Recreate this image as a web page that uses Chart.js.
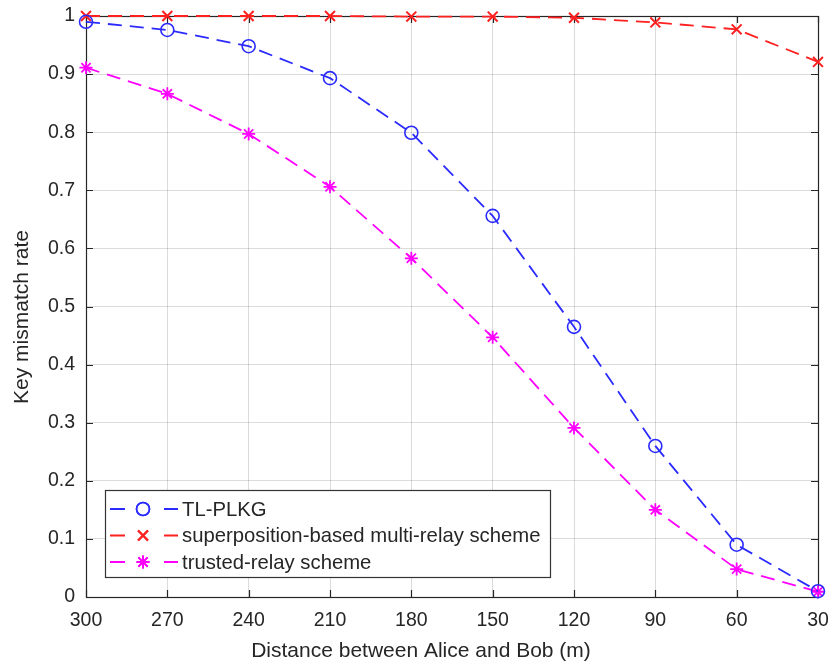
<!DOCTYPE html>
<html>
<head>
<meta charset="utf-8">
<script src="https://cdn.jsdelivr.net/npm/chart.js@4.4.0/dist/chart.umd.min.js"></script>
<style>
  body { margin: 0; background: #fff; }
  #wrap { width: 833px; height: 670px; }
</style>
</head>
<body>
<div id="wrap"><canvas id="myChart" width="833" height="670"></canvas></div>
<script>
// distances (m), plotted from far to near
const distances = ['300', '270', '240', '210', '180', '150', '120', '90', '60', '30'];
const tlPlkg = [0.990, 0.976, 0.948, 0.893, 0.799, 0.656, 0.465, 0.260, 0.090, 0.010];
const superposition = [1.000, 1.000, 1.000, 1.000, 0.999, 0.999, 0.997, 0.989, 0.977, 0.921];
const trustedRelay = [0.911, 0.866, 0.797, 0.706, 0.583, 0.447, 0.291, 0.150, 0.048, 0.009];

const seriesNames = ['TL-PLKG', 'superposition-based multi-relay scheme', 'trusted-relay scheme'];
const xTitle = 'Distance between Alice and Bob (m)';
const yTitle = 'Key mismatch rate';

const FONT = '"Liberation Sans", Arial, sans-serif';
const TEXT = '#262626';

function makeSet(label, data, color, style, radius, markerWidth) {
    return {
        label: label,
        data: data,
        borderColor: color,
        backgroundColor: color,
        borderWidth: 1.8,
        borderDash: [14, 8],
        pointStyle: style,
        pointRadius: radius,
        pointBorderColor: color,
        pointBackgroundColor: 'rgba(0,0,0,0)',
        pointBorderWidth: markerWidth,
        tension: 0,
        clip: false
    };
}

function drawText(ctx, text, x, y, size, angle) {
    ctx.save();
    ctx.translate(x, y);
    ctx.rotate(angle);
    ctx.fillStyle = TEXT;
    ctx.font = size + 'px ' + FONT;
    ctx.textAlign = 'center';
    ctx.textBaseline = 'middle';
    ctx.fillText(text, 0, 0);
    ctx.restore();
}

// box round the plot with inward ticks, drawn under the lines
const frame = {
    id: 'matlab_frame',
    beforeDatasetsDraw: (chart) => {
        const { ctx, chartArea: a, scales } = chart;
        ctx.save();
        ctx.strokeStyle = '#262626';
        ctx.lineWidth = 1.2;
        ctx.setLineDash([]);
        ctx.strokeRect(a.left + 0.5, a.top + 0.5, a.right - a.left, a.bottom - a.top);
        ctx.beginPath();
        scales.x.ticks.forEach((t, i) => {
            const x = Math.round(scales.x.getPixelForTick(i)) + 0.5;
            ctx.moveTo(x, a.bottom); ctx.lineTo(x, a.bottom - 7);
            ctx.moveTo(x, a.top); ctx.lineTo(x, a.top + 7);
        });
        scales.y.ticks.forEach((t) => {
            const y = Math.round(scales.y.getPixelForValue(t.value)) + 0.5;
            ctx.moveTo(a.left, y); ctx.lineTo(a.left + 7, y);
            ctx.moveTo(a.right, y); ctx.lineTo(a.right - 7, y);
        });
        ctx.stroke();
        ctx.restore();
    },
    // legend inside the axes, and the axis titles
    afterDatasetsDraw: (chart) => {
        const { ctx } = chart;
        ctx.save();
        const bx = 105, by = 490, bw = 445, bh = 87;
        ctx.fillStyle = '#fff';
        ctx.fillRect(bx, by, bw, bh);
        ctx.strokeStyle = '#333';
        ctx.lineWidth = 1.2;
        ctx.strokeRect(bx + 0.5, by + 0.5, bw, bh);
        chart.data.datasets.forEach((ds, i) => {
            const y = by + 19 + i * 26.5;
            ctx.strokeStyle = ds.borderColor;
            ctx.lineWidth = 1.8;
            ctx.beginPath();
            ctx.moveTo(110, y); ctx.lineTo(125, y);
            ctx.moveTo(164, y); ctx.lineTo(178, y);
            ctx.stroke();
            ctx.lineWidth = ds.pointBorderWidth;
            Chart.helpers.drawPoint(ctx, {
                pointStyle: ds.pointStyle,
                radius: ds.pointRadius,
                borderWidth: ds.pointBorderWidth
            }, 143, y);
            ctx.stroke();
            ctx.fillStyle = TEXT;
            ctx.font = '20.3px ' + FONT;
            ctx.textBaseline = 'middle';
            ctx.textAlign = 'left';
            ctx.fillText(ds.label, 182, y + 1);
        });

        drawText(ctx, yTitle, 22, 317, 21, -Math.PI / 2);
        drawText(ctx, xTitle, 421, 651, 21, 0);
        ctx.restore();
    }
};

const plugins = {
    id: 'custom_canvas_background_color',
    beforeDraw: (chart) => {
        const { ctx } = chart;
        ctx.save();
        ctx.globalCompositeOperation = 'destination-over';
        ctx.fillStyle = '#fff';
        ctx.fillRect(0, 0, chart.width, chart.height);
        ctx.restore();
    }
};

const ctx = document.getElementById('myChart').getContext('2d');
new Chart(ctx, {
    type: 'line',
    data: {
        labels: distances,
        datasets: [
            makeSet(seriesNames[0], tlPlkg, '#2b2bff', 'circle', 6.5, 1.6),
            makeSet(seriesNames[1], superposition, '#ff2020', 'crossRot', 7, 2),
            makeSet(seriesNames[2], trustedRelay, '#ff00ff', 'star', 6.5, 1.8)
        ]
    },
    options: {
        responsive: false,
        animation: false,
        layout: { padding: { top: 16, right: 15, left: 0, bottom: 0 } },
        plugins: {
            legend: { display: false },
            tooltip: { enabled: false }
        },
        scales: {
            x: {
                type: 'category',
                offset: false,
                afterFit: (s) => { s.height = 73; s.paddingLeft = 0; s.paddingRight = 0; },
                grid: { color: 'rgba(0,0,0,0.14)', drawTicks: false },
                border: { display: false },
                ticks: { color: TEXT, font: { family: FONT, size: 19.5 }, padding: 12, maxRotation: 0 }
            },
            y: {
                min: 0,
                max: 1,
                afterFit: (s) => { s.width = 86; s.paddingTop = 0; s.paddingBottom = 0; },
                grid: { color: 'rgba(0,0,0,0.14)', drawTicks: false },
                border: { display: false },
                ticks: {
                    stepSize: 0.1,
                    color: TEXT,
                    font: { family: FONT, size: 19.5 },
                    padding: 11,
                    callback: (v) => String(+v.toFixed(1))
                }
            }
        }
    },
    plugins: [plugins, frame]
});
</script>
</body>
</html>
